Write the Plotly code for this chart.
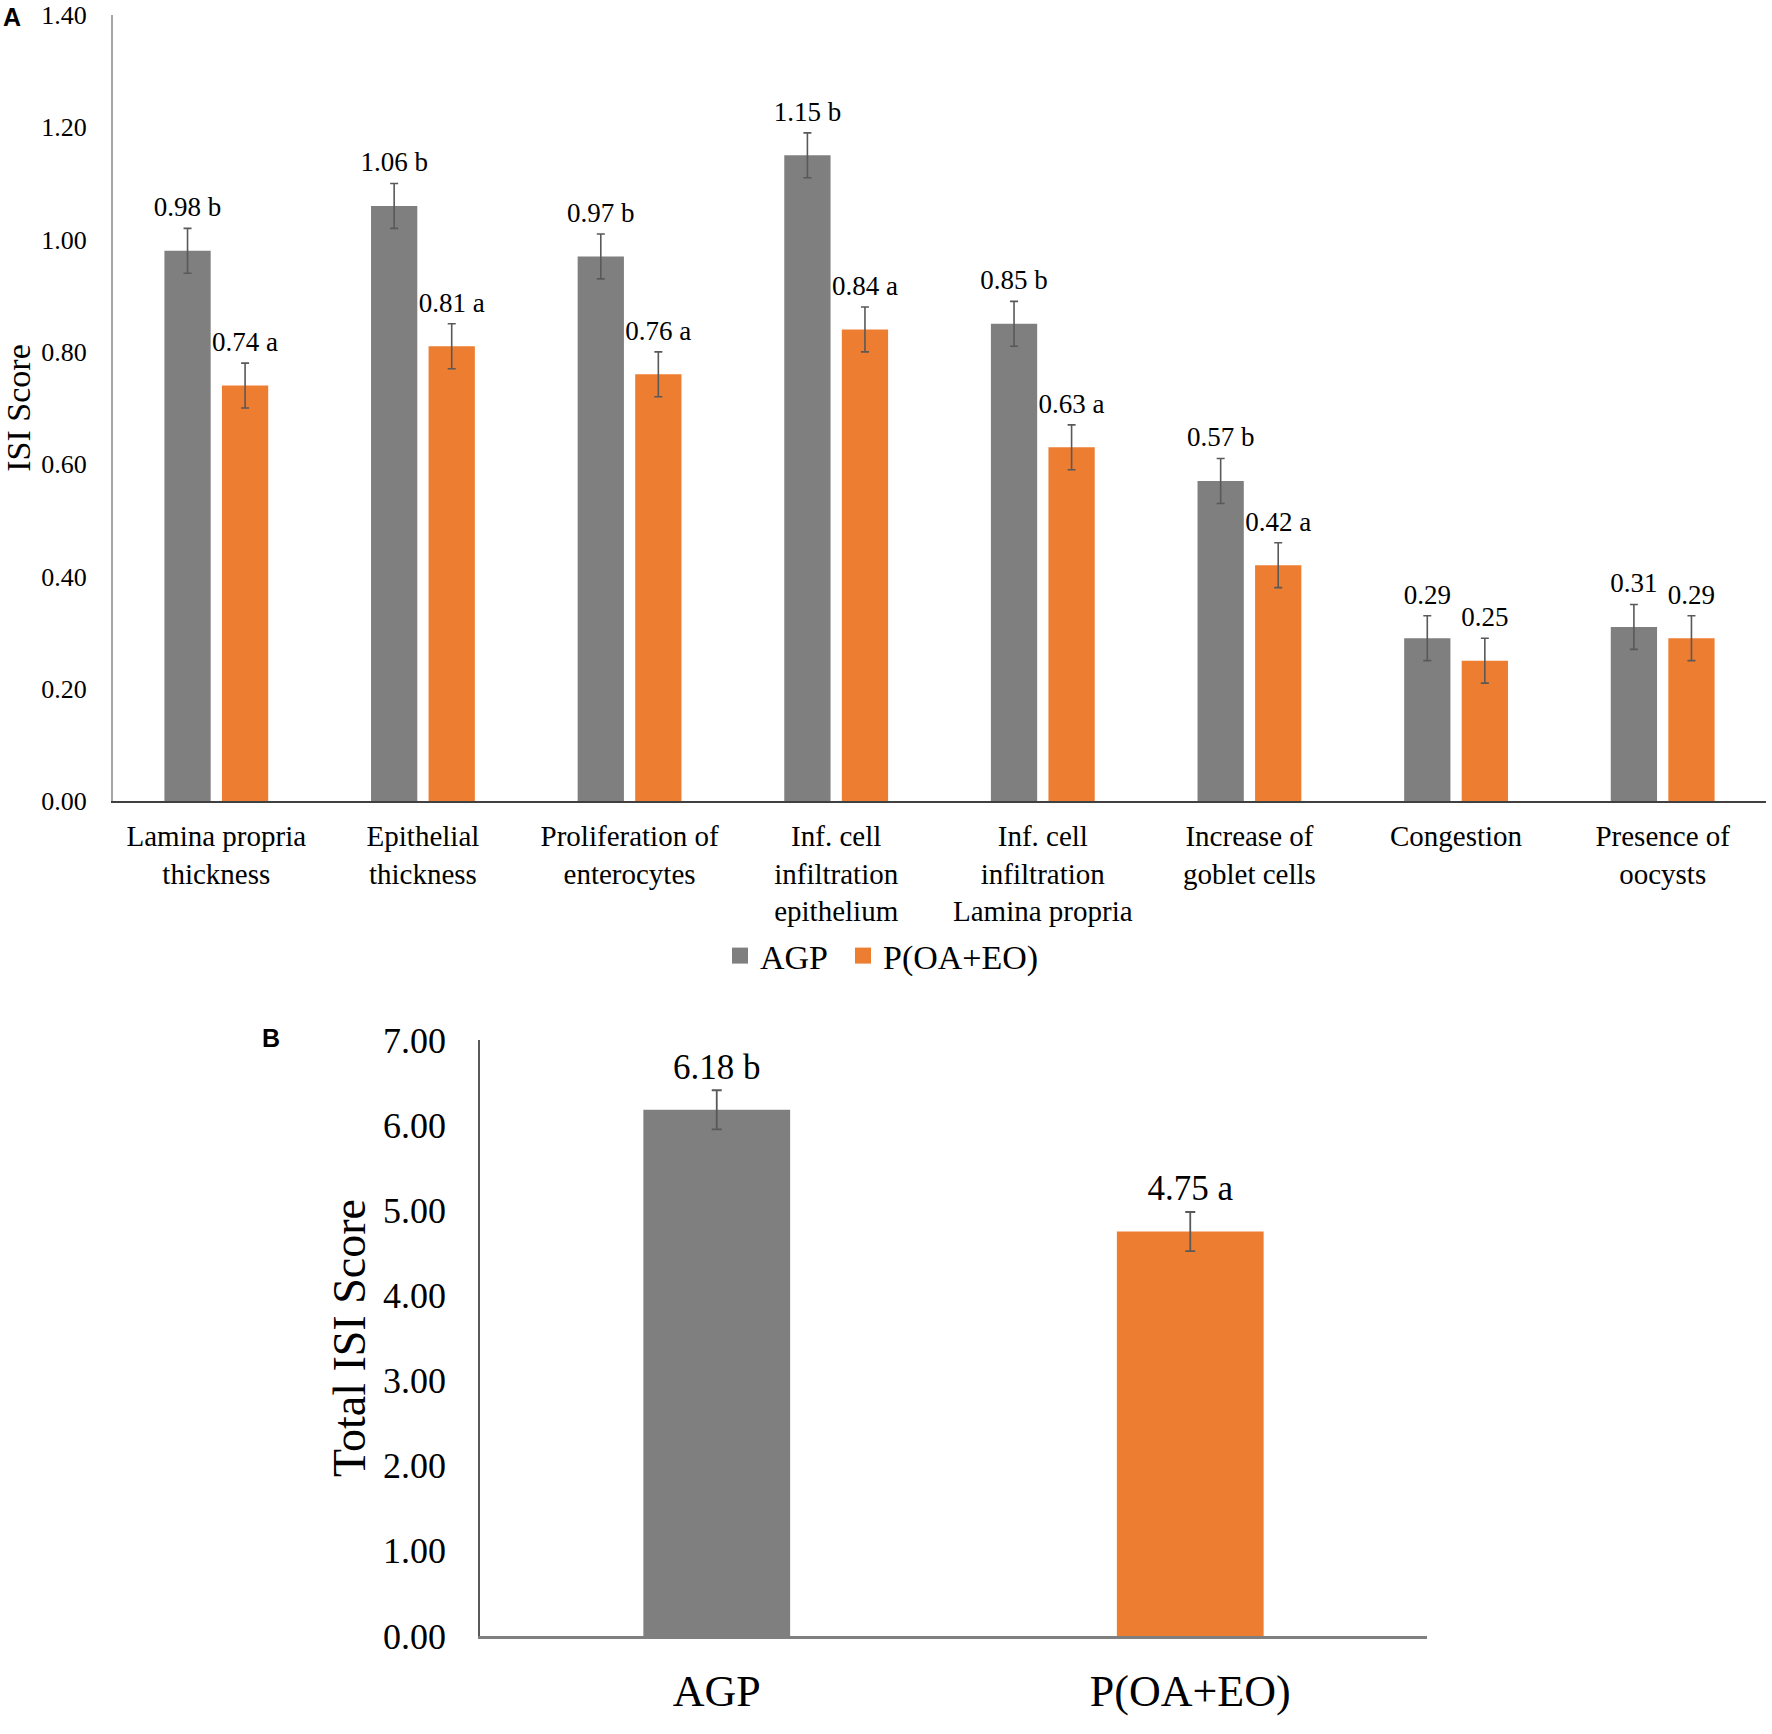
import plotly.graph_objects as go

# ---------------- data ----------------
categories = [
    "Lamina propria<br>thickness",
    "Epithelial<br>thickness",
    "Proliferation of<br>enterocytes",
    "Inf. cell<br>infiltration<br>epithelium",
    "Inf. cell<br>infiltration<br>Lamina propria",
    "Increase of<br>goblet cells",
    "Congestion",
    "Presence of<br>oocysts",
]
agp_vals = [0.98, 1.06, 0.97, 1.15, 0.85, 0.57, 0.29, 0.31]
poaeo_vals = [0.74, 0.81, 0.76, 0.84, 0.63, 0.42, 0.25, 0.29]
agp_err = [0.04, 0.04, 0.04, 0.04, 0.04, 0.04, 0.04, 0.04]
poaeo_err = [0.04, 0.04, 0.04, 0.04, 0.04, 0.04, 0.04, 0.04]
agp_letters = ["b", "b", "b", "b", "b", "b", "", ""]
poaeo_letters = ["a", "a", "a", "a", "a", "a", "", ""]
ticks_a = [0.0, 0.2, 0.4, 0.6, 0.8, 1.0, 1.2, 1.4]

groups_b = ["AGP", "P(OA+EO)"]
total_vals = [6.18, 4.75]
total_err = [0.23, 0.23]
total_letters = ["b", "a"]
ticks_b = [0, 1, 2, 3, 4, 5, 6, 7]

series_names = ["AGP", "P(OA+EO)"]
GRAY = "#7F7F7F"
ORANGE = "#ED7D31"
ERR = "#595959"
SERIF = "Liberation Serif, Times New Roman, serif"

FW, FH = 1772, 1734


def px(x):
    return x / FW


def py(y):
    return 1 - y / FH


def lab(v, l):
    return (f"{v:.2f} {l}").strip()


fig = go.Figure()

# ---------------- panel A ----------------
for name, vals, errs, lets, col, og, leg in [
    (series_names[0], agp_vals, agp_err, agp_letters, GRAY, "g1", "legend"),
    (series_names[1], poaeo_vals, poaeo_err, poaeo_letters, ORANGE, "g2", "legend2"),
]:
    fig.add_trace(go.Bar(
        x=categories, y=vals, name=name, offsetgroup=og,
        marker=dict(color=col, line=dict(width=0)),
        error_y=dict(type="data", array=errs, visible=True, color=ERR,
                     thickness=1.6, width=4),
        showlegend=False, xaxis="x", yaxis="y",
    ))
    fig.add_trace(go.Scatter(
        x=categories, y=[v + e for v, e in zip(vals, errs)],
        mode="markers+text", text=[lab(v, l) for v, l in zip(vals, lets)],
        textposition="top center", offsetgroup=og,
        marker=dict(size=7, color="rgba(0,0,0,0)"),
        textfont=dict(family=SERIF, size=27, color="#000000"),
        showlegend=False, hoverinfo="skip", xaxis="x", yaxis="y",
    ))
    # legend entry
    fig.add_trace(go.Scatter(
        x=[None], y=[None], mode="markers", name=name, offsetgroup=og,
        marker=dict(symbol="square", size=16, color=col),
        showlegend=True, legend=leg, xaxis="x", yaxis="y",
    ))

# ---------------- panel B ----------------
fig.add_trace(go.Bar(
    x=groups_b, y=total_vals, width=0.31,
    marker=dict(color=[GRAY, ORANGE], line=dict(width=0)),
    error_y=dict(type="data", array=total_err, visible=True, color=ERR,
                 thickness=1.8, width=5),
    showlegend=False, xaxis="x2", yaxis="y2",
))
fig.add_trace(go.Scatter(
    x=groups_b, y=[v + e for v, e in zip(total_vals, total_err)],
    mode="markers+text", text=[lab(v, l) for v, l in zip(total_vals, total_letters)],
    textposition="top center",
    marker=dict(size=3, color="rgba(0,0,0,0)"),
    textfont=dict(family=SERIF, size=35, color="#000000"),
    showlegend=False, hoverinfo="skip", xaxis="x2", yaxis="y2",
))

legend_common = dict(orientation="h", xanchor="left", yanchor="middle",
                     font=dict(family=SERIF, size=34, color="#000000"),
                     bgcolor="rgba(0,0,0,0)", itemwidth=30)

fig.update_layout(
    width=FW, height=FH,
    margin=dict(l=0, r=0, t=0, b=0, pad=0, autoexpand=False),
    paper_bgcolor="white", plot_bgcolor="white",
    barmode="group", bargap=0.443, bargroupgap=0.196,
    scattermode="group", scattergap=0.443,
    font=dict(family=SERIF, color="#000000"),
    showlegend=True,
    legend=dict(x=px(720), y=py(956), **legend_common),
    legend2=dict(x=px(843), y=py(956), **legend_common),
    xaxis=dict(domain=[px(113), px(1766)], anchor="y", type="category",
               automargin=False,
               showline=True, linecolor="#404040", linewidth=2,
               showgrid=False, ticks="", ticklabelstandoff=8,
               tickfont=dict(family=SERIF, size=29, color="#000000"),
               fixedrange=True),
    yaxis=dict(domain=[py(801), py(15)], anchor="x", range=[0, 1.4],
               automargin=False, ticklabeloverflow="allow",
               tickvals=ticks_a, tickformat=".2f",
               showline=True, linecolor="#A6A6A6", linewidth=2,
               showgrid=False, zeroline=False, ticks="",
               ticklabelstandoff=19,
               tickfont=dict(family=SERIF, size=26, color="#000000"),
               title=dict(text="ISI Score", standoff=13,
                          font=dict(family=SERIF, size=34, color="#000000")),
               fixedrange=True),
    xaxis2=dict(domain=[px(480), px(1427)], anchor="y2", type="category",
                automargin=False,
                showline=True, linecolor="#7F7F7F", linewidth=3,
                showgrid=False, ticks="", ticklabelstandoff=14,
                tickfont=dict(family=SERIF, size=44, color="#000000"),
                fixedrange=True),
    yaxis2=dict(domain=[py(1636), py(1040)], anchor="x2", range=[0, 7],
                automargin=False, ticklabeloverflow="allow",
                tickvals=ticks_b, tickformat=".2f",
                showline=True, linecolor="#595959", linewidth=1.5,
                showgrid=False, zeroline=False, ticks="",
                ticklabelstandoff=25,
                tickfont=dict(family=SERIF, size=36, color="#000000"),
                title=dict(text="Total ISI Score", standoff=3,
                           font=dict(family=SERIF, size=46, color="#000000")),
                fixedrange=True),
    annotations=[
        dict(text="<b>A</b>", x=px(1), y=py(1), xref="paper", yref="paper",
             xanchor="left", yanchor="top", showarrow=False,
             font=dict(family="Liberation Sans, Arial, sans-serif", size=25, color="#000000")),
        dict(text="<b>B</b>", x=px(260), y=py(1022), xref="paper", yref="paper",
             xanchor="left", yanchor="top", showarrow=False,
             font=dict(family="Liberation Sans, Arial, sans-serif", size=25, color="#000000")),
    ],
)

# remove the browser's default 8px body margin so the figure sits at the window origin
fig.write_html("out.html", config={"displayModeBar": False},
               post_script="document.body.style.margin='0';")
